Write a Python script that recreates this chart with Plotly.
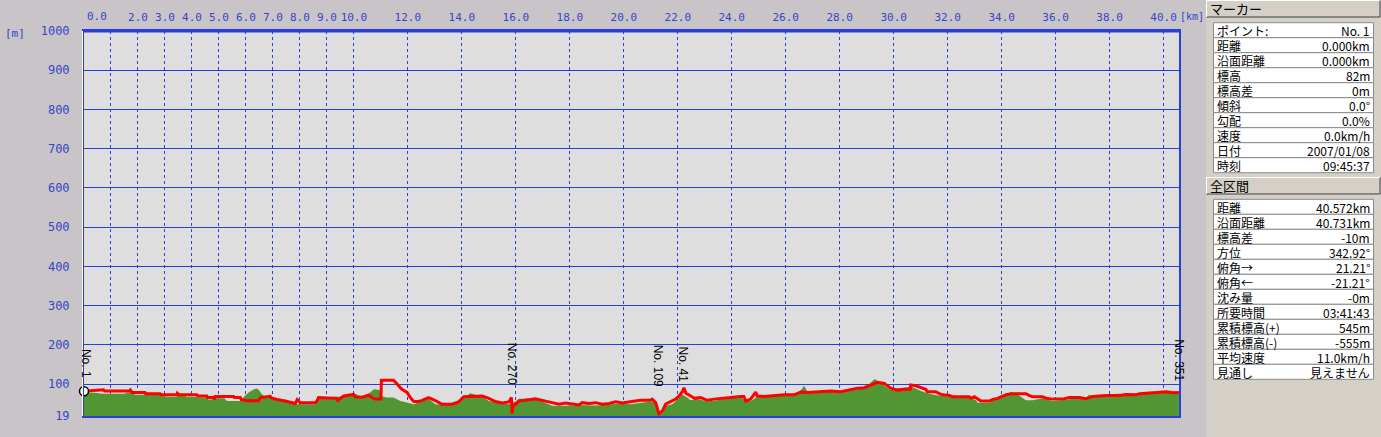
import plotly.graph_objects as go

# ---------------- data ----------------
red_km = [0.0, 0.72, 0.76, 1.0, 1.7, 1.72, 1.78, 2.26, 2.3, 2.82, 2.86, 3.44, 3.46, 3.52, 4.18, 4.22, 4.55, 4.58,
          4.80, 4.82, 4.86, 5.54, 5.57, 5.79, 5.82, 6.03, 6.47, 6.53, 6.9, 6.95, 7.15, 7.46, 7.83, 7.9, 8.01, 8.57,
          8.63, 8.69, 9.37, 9.40, 9.62, 9.99, 10.05, 10.30, 10.55, 10.67, 10.79, 11.0, 11.02, 11.47, 11.60, 11.78,
          11.97, 12.09, 12.22, 12.40, 12.53, 12.77, 13.02, 13.27, 13.63, 13.88, 14.07, 14.50, 14.75, 15.00, 15.24,
          15.49, 15.74, 15.84, 15.86, 15.90, 15.99, 16.11, 16.36, 16.73, 17.10, 17.35, 17.60, 17.84, 18.09, 18.34,
          18.46, 18.71, 18.96, 19.20, 19.45, 19.70, 19.94, 20.19, 20.30, 20.62, 20.99, 21.05, 21.18, 21.30, 21.43,
          21.55, 21.73, 21.92, 22.05, 22.17, 22.23, 22.30, 22.48, 22.62, 22.85, 23.10, 23.34, 23.59, 23.96, 24.33,
          24.45, 24.52, 24.70, 24.89, 24.95, 25.20, 25.95, 26.31, 26.56, 26.81, 27.18, 27.67, 28.04, 28.41, 28.66,
          28.91, 29.15, 29.40, 29.65, 29.89, 30.14, 30.45, 30.61, 30.63, 30.82, 31.01, 31.19, 31.25, 31.56, 31.69,
          31.81, 32.06, 32.18, 32.80, 32.86, 32.99, 33.11, 33.23, 33.54, 33.67, 33.85, 34.04, 34.16, 34.41, 34.90,
          35.03, 35.15, 35.52, 35.65, 35.89, 36.26, 36.51, 36.88, 37.13, 37.25, 37.38, 37.87, 38.37, 38.61, 38.98,
          39.11, 39.85, 40.10, 40.35, 40.57]
red_m = [82, 86, 83, 83, 83, 85, 79, 79, 76, 76, 73, 73, 77, 73, 73, 70, 70, 66,
         66, 61, 69, 69, 66, 66, 61, 58, 58, 66, 69, 65, 61, 57, 51, 61, 53, 53,
         57, 66, 64, 59, 70, 74, 68, 67, 72, 66, 62, 62, 110, 110, 100, 87,
         79, 66, 56, 56, 59, 66, 58, 49, 49, 55, 68, 70, 70, 64, 56,
         52, 55, 66, 25, 45, 49, 57, 59, 63, 57, 53, 49, 52, 49, 47,
         53, 51, 53, 49, 51, 55, 52, 56, 56, 59, 59, 62, 53, 25, 32,
         49, 56, 62, 70, 81, 91, 77, 70, 64, 66, 59, 62, 63, 66, 69,
         69, 57, 62, 80, 70, 69, 73, 73, 80, 79, 81, 83, 81, 87, 90,
         91, 98, 105, 102, 90, 85, 88, 87, 98, 96, 91, 87, 81, 81, 76,
         73, 71, 68, 68, 64, 68, 62, 57, 57, 61, 64, 69, 73, 76, 76,
         71, 68, 68, 64, 62, 62, 66, 66, 63, 66, 69, 71, 71, 74, 73,
         76, 79, 81, 78, 79]

green_km = [0.0, 0.4, 0.72, 1.5, 1.6, 1.71, 1.9, 2.2, 2.26, 2.82, 2.9, 3.1, 3.44, 3.5, 3.8, 4.18, 4.22, 4.55, 4.6,
            4.8, 4.85, 5.2, 5.3, 5.79, 5.9, 6.1, 6.3, 6.4, 6.47, 6.6, 6.75, 6.9, 7.15, 7.4, 7.6, 7.83, 8.57,
            8.69, 8.9, 9.2, 9.62, 9.9, 10.0, 10.05, 10.30, 10.40, 10.6, 10.75, 10.95, 11.02, 11.2, 11.47, 11.72,
            12.0, 12.22, 12.53, 12.77, 13.02, 13.63, 13.88, 14.07, 14.32, 14.50, 14.75, 15.00, 15.49, 15.74,
            15.99, 16.11, 16.73, 17.10, 17.35, 17.84, 18.34, 18.96, 19.45, 19.94, 20.25, 20.62, 20.99, 21.18,
            21.30, 21.43, 21.55, 21.80, 22.05, 22.17, 22.35, 22.48, 22.73, 23.10, 23.47, 23.96, 24.33, 24.52,
            24.70, 24.95, 25.20, 25.95, 26.31, 26.56, 26.68, 26.81, 27.18, 27.67, 28.04, 28.41, 28.91, 29.25,
            29.30, 29.65, 29.89, 30.14, 30.51, 30.63, 30.82, 31.01, 31.19, 31.5, 31.81, 32.06, 32.18, 32.80,
            33.05, 33.11, 33.54, 33.79, 34.10, 34.35, 34.59, 34.78, 34.90, 35.15, 35.52, 35.89, 36.26, 36.63,
            37.13, 37.25, 37.44, 37.87, 38.24, 38.37, 38.61, 39.11, 39.85, 40.10, 40.35, 40.57]
green_m = [78, 78, 76, 76, 79, 79, 73, 73, 76, 76, 70, 68, 68, 76, 68, 68, 66, 66, 61,
           61, 64, 64, 57, 57, 66, 79, 87, 89, 86, 74, 68, 66, 63, 59, 54, 49, 49,
           62, 62, 68, 68, 73, 74, 76, 66, 70, 79, 87, 85, 70, 66, 66, 57,
           53, 49, 56, 62, 49, 47, 57, 66, 77, 73, 68, 57, 51, 49,
           56, 63, 63, 53, 45, 45, 47, 46, 49, 51, 49, 52, 56, 53,
           25, 32, 45, 49, 66, 74, 66, 59, 62, 56, 59, 64, 68, 56,
           57, 68, 66, 73, 74, 84, 96, 81, 79, 81, 78, 85, 90, 110,
           113, 96, 85, 90, 91, 95, 90, 83, 78, 73, 70, 68, 66, 66,
           59, 53, 53, 62, 73, 81, 74, 64, 59, 59, 64, 57, 59, 63,
           66, 73, 68, 69, 76, 76, 71, 74, 78, 81, 78, 78]

x_ticks = [0, 1, 2, 3, 4, 5, 6, 7, 8, 9, 10, 12, 14, 16, 18, 20, 22, 24, 26, 28, 30, 32, 34, 36, 38, 40]
x_ticktext = ["", "", "2.0", "3.0", "4.0", "5.0", "6.0", "7.0", "8.0", "9.0", "10.0", "12.0", "14.0", "16.0",
              "18.0", "20.0", "22.0", "24.0", "26.0", "28.0", "30.0", "32.0", "34.0", "36.0", "38.0", "40.0"]
y_ticks = [19, 100, 200, 300, 400, 500, 600, 700, 800, 900, 1000]

marker_labels = ["No. 1", "No. 270", "No. 109", "No. 41", "No. 351"]
marker_km = [0.07, 15.87, 21.25, 22.18, 40.57]
marker_top_m = [194, 210, 207, 202, 220]

marker_rows = [("ポイント:", "No. 1"), ("距離", "0.000km"), ("沿面距離", "0.000km"), ("標高", "82m"),
               ("標高差", "0m"), ("傾斜", "0.0°"), ("勾配", "0.0%"), ("速度", "0.0km/h"),
               ("日付", "2007/01/08"), ("時刻", "09:45:37")]
total_rows = [("距離", "40.572km"), ("沿面距離", "40.731km"), ("標高差", "-10m"), ("方位", "342.92°"),
              ("俯角→", "21.21°"), ("俯角←", "-21.21°"), ("沈み量", "-0m"), ("所要時間", "03:41:43"),
              ("累積標高(+)", "545m"), ("累積標高(-)", "-555m"), ("平均速度", "11.0km/h"), ("見通し", "見えません")]

# ---------------- style ----------------
W, H = 1381, 437
L, R, T, B = 84, 1179, 31, 416
BLUE = "#2a3fd6"
TXT_BLUE = "#3346c8"
PAGE_BG = "#c8c4c8"
PANEL_BG = "#d4d0c8"
PLOT_BG = "#dedede"
GREEN = "#519632"
JP = "Noto Sans CJK JP"
MONO = "DejaVu Sans Mono"


def px(x):
    return (x - L) / (R - L)


def py(y):
    return (B - y) / (B - T)


fig = go.Figure()
fig.add_trace(go.Scatter(x=green_km, y=green_m, mode="lines", fill="tozeroy",
                         line=dict(color=GREEN, width=0), fillcolor=GREEN, hoverinfo="skip"))
fig.add_trace(go.Scatter(x=red_km, y=red_m, mode="lines", line=dict(color="#ff0000", width=3),
                         hoverinfo="skip"))
# start point rider marker
fig.add_trace(go.Scatter(x=red_km[:1], y=red_m[:1], mode="markers", cliponaxis=False,
                         marker=dict(symbol="circle", size=9, color="white", line=dict(color="black", width=1.5)),
                         hoverinfo="skip"))

shapes = []
annos = []

# marker labels in chart
for lab, k, t in zip(marker_labels, marker_km, marker_top_m):
    annos.append(dict(x=k, y=t, xref="x", yref="y", text=lab, textangle=90, showarrow=False,
                      xanchor="center", yanchor="top",
                      font=dict(family="Liberation Sans", size=12, color="black")))

# axis unit labels and the shifted 0.0 label
annos.append(dict(x=px(97), y=py(17), xref="paper", yref="paper", text="0.0", showarrow=False,
                  xanchor="center", yanchor="middle", font=dict(family=MONO, size=11, color=TXT_BLUE)))
annos.append(dict(x=px(1180), y=py(17), xref="paper", yref="paper", text="[km]", showarrow=False,
                  xanchor="left", yanchor="middle", xshift=-2, font=dict(family=MONO, size=10, color=TXT_BLUE)))
annos.append(dict(x=px(3), y=py(33), xref="paper", yref="paper", text="[m]", showarrow=False,
                  xanchor="left", yanchor="middle", font=dict(family=MONO, size=11, color=TXT_BLUE)))

# right panel
shapes.append(dict(type="rect", xref="paper", yref="paper", x0=px(1206), x1=px(1382), y0=py(0), y1=py(438),
                   fillcolor=PANEL_BG, line=dict(width=0), layer="above"))


def header(y0, y1, text):
    shapes.append(dict(type="rect", xref="paper", yref="paper", x0=px(1206), x1=px(1380), y0=py(y0), y1=py(y1),
                       fillcolor=PANEL_BG, line=dict(width=0), layer="above"))
    shapes.append(dict(type="line", xref="paper", yref="paper", x0=px(1206), x1=px(1380), y0=py(y1), y1=py(y1),
                       line=dict(color="#404040", width=1), layer="above"))
    shapes.append(dict(type="line", xref="paper", yref="paper", x0=px(1380), x1=px(1380), y0=py(y0), y1=py(y1),
                       line=dict(color="#404040", width=1), layer="above"))
    shapes.append(dict(type="line", xref="paper", yref="paper", x0=px(1206.5), x1=px(1206.5), y0=py(y0), y1=py(y1),
                       line=dict(color="#ffffff", width=1), layer="above"))
    shapes.append(dict(type="line", xref="paper", yref="paper", x0=px(1206), x1=px(1380), y0=py(y0 + 0.5), y1=py(y0 + 0.5),
                       line=dict(color="#ffffff", width=1), layer="above"))
    annos.append(dict(x=px(1208), y=py((y0 + y1) / 2), xref="paper", yref="paper", text=text, showarrow=False,
                      xanchor="left", yanchor="middle", font=dict(family=JP, size=13, color="black")))


def table(top, rows):
    rh = 15
    for i, (a, b) in enumerate(rows):
        y0 = top + i * rh
        shapes.append(dict(type="rect", xref="paper", yref="paper", x0=px(1213.5), x1=px(1373.5),
                           y0=py(y0), y1=py(y0 + rh), fillcolor="white",
                           line=dict(color="#8a8a8a", width=1), layer="above"))
        annos.append(dict(x=px(1215), y=py(y0 + rh / 2 + 0.5), xref="paper", yref="paper", text=a, showarrow=False,
                          xanchor="left", yanchor="middle", font=dict(family=JP, size=12, color="black")))
        annos.append(dict(x=px(1372), y=py(y0 + rh / 2 + 0.5), xref="paper", yref="paper", text=b, showarrow=False,
                          xanchor="right", yanchor="middle", font=dict(family=JP, size=12, color="black")))


header(0, 17, "マーカー")
table(22.7, marker_rows)
header(177, 194, "全区間")
table(199.3, total_rows)

# thicker top border and white edge left of the frame
shapes.append(dict(type="line", xref="paper", yref="paper", x0=0, x1=1, y0=1, y1=1,
                   line=dict(color=BLUE, width=3), layer="above"))
shapes.append(dict(type="line", xref="paper", yref="paper", x0=px(82.5), x1=px(82.5), y0=0, y1=1,
                   line=dict(color="white", width=1), layer="above"))

fig.update_layout(
    width=W, height=H,
    margin=dict(l=L, r=W - R, t=T, b=H - B, pad=0),
    paper_bgcolor=PAGE_BG, plot_bgcolor=PLOT_BG,
    showlegend=False,
    shapes=shapes, annotations=annos,
    xaxis=dict(side="top", range=[0, 40.572], tickvals=x_ticks, ticktext=x_ticktext,
               showgrid=True, gridcolor=BLUE, griddash="dot", gridwidth=1,
               showline=True, linecolor=BLUE, linewidth=2, mirror=True,
               ticks="", ticklabelstandoff=4, zeroline=False,
               tickfont=dict(family=MONO, size=11, color=TXT_BLUE)),
    yaxis=dict(range=[19, 1000], tickvals=y_ticks, ticktext=[str(v) for v in y_ticks],
               showgrid=True, gridcolor=BLUE, gridwidth=1,
               showline=True, linecolor=BLUE, linewidth=2, mirror=True,
               ticks="", ticklabelstandoff=10, zeroline=False,
               tickfont=dict(family=MONO, size=12, color=TXT_BLUE)),
)

fig.write_html("out.html", config={"displayModeBar": False},
               post_script="document.body.style.margin='0';document.body.style.background='" + PAGE_BG + "';")
